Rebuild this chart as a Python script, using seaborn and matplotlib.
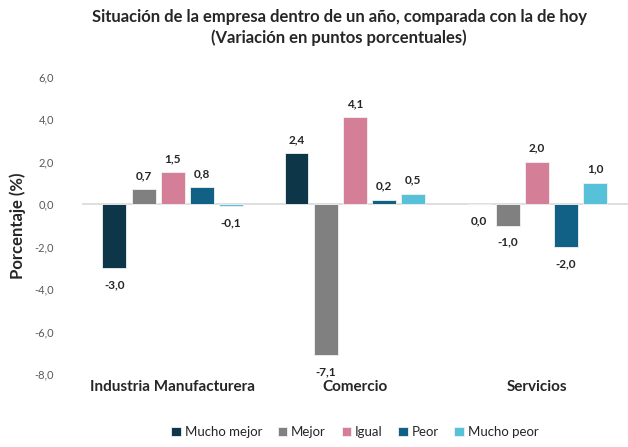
import pandas as pd
import seaborn as sns
import matplotlib.pyplot as plt

sectores = ["Industria Manufacturera", "Comercio", "Servicios"]
opciones = ["Mucho mejor", "Mejor", "Igual", "Peor", "Mucho peor"]
mucho_mejor = [-3.0, 2.4, 0.0]
mejor = [0.7, -7.1, -1.0]
igual = [1.5, 4.1, 2.0]
peor = [0.8, 0.2, -2.0]
mucho_peor = [-0.1, 0.5, 1.0]
colores = ["#0d3649", "#808080", "#d47e98", "#106185", "#56c1d9"]

valores = [mucho_mejor, mejor, igual, peor, mucho_peor]
rows = []
for op, vals in zip(opciones, valores):
    for sec, v in zip(sectores, vals):
        rows.append({"Sector": sec, "Opcion": op, "Valor": v})
df = pd.DataFrame(rows)

sns.set_style("white")
plt.rcParams["font.family"] = ["Lato", "DejaVu Sans"]

fig = plt.figure(figsize=(6.28, 4.47), dpi=100)
ax = fig.add_axes([0.13, 0.163, 0.87, 0.665])

sns.barplot(data=df, x="Sector", y="Valor", hue="Opcion", hue_order=opciones,
            palette=colores, saturation=1, width=0.8, gap=0.18, edgecolor="#f2f2f2",
            linewidth=0.6, ax=ax)

fmt = lambda v: f"{v:.1f}".replace(".", ",")

for cont, vals in zip(ax.containers, valores):
    for patch, v in zip(cont.patches, vals):
        xc = patch.get_x() + patch.get_width() / 2
        if v > 0:
            ax.annotate(fmt(v), (xc, v), xytext=(0, 6), textcoords="offset points",
                        ha="center", va="bottom", fontsize=8.5, fontweight="bold",
                        color="#262626")
        else:
            ax.annotate(fmt(v), (xc, v), xytext=(0, -8), textcoords="offset points",
                        ha="center", va="top", fontsize=8.5, fontweight="bold",
                        color="#262626")

ax.set_ylim(-8, 6)
ax.set_xlim(-0.5, 2.5)
ax.set_yticks(range(-8, 7, 2))
ax.set_yticklabels([fmt(t) for t in range(-8, 7, 2)], fontsize=8, color="#595959")
ax.axhline(0, color="#d9d9d9", linewidth=1.2, zorder=0)
sns.despine(ax=ax, left=True, bottom=True)
ax.tick_params(axis="both", length=0)
ax.tick_params(axis="y", pad=20)
ax.tick_params(axis="x", labelsize=11, pad=4)
for lbl in ax.get_xticklabels():
    lbl.set_fontweight("bold")
    lbl.set_color("#262626")
ax.set_xlabel("")
ax.set_ylabel("Porcentaje (%)", fontsize=12, fontweight="bold", color="#262626", labelpad=6)

fig.suptitle("Situación de la empresa dentro de un año, comparada con la de hoy\n"
             "(Variación en puntos porcentuales)", x=0.54, y=0.98,
             fontsize=12, fontweight="bold", color="#262626", linespacing=1.35)

ax.legend(loc="lower center", bbox_to_anchor=(0.5, -0.255), ncol=5, frameon=False,
          fontsize=9.5, handlelength=0.7, handleheight=0.7, handletextpad=0.3,
          columnspacing=1.2)

fig.savefig("out.png", dpi=100)
